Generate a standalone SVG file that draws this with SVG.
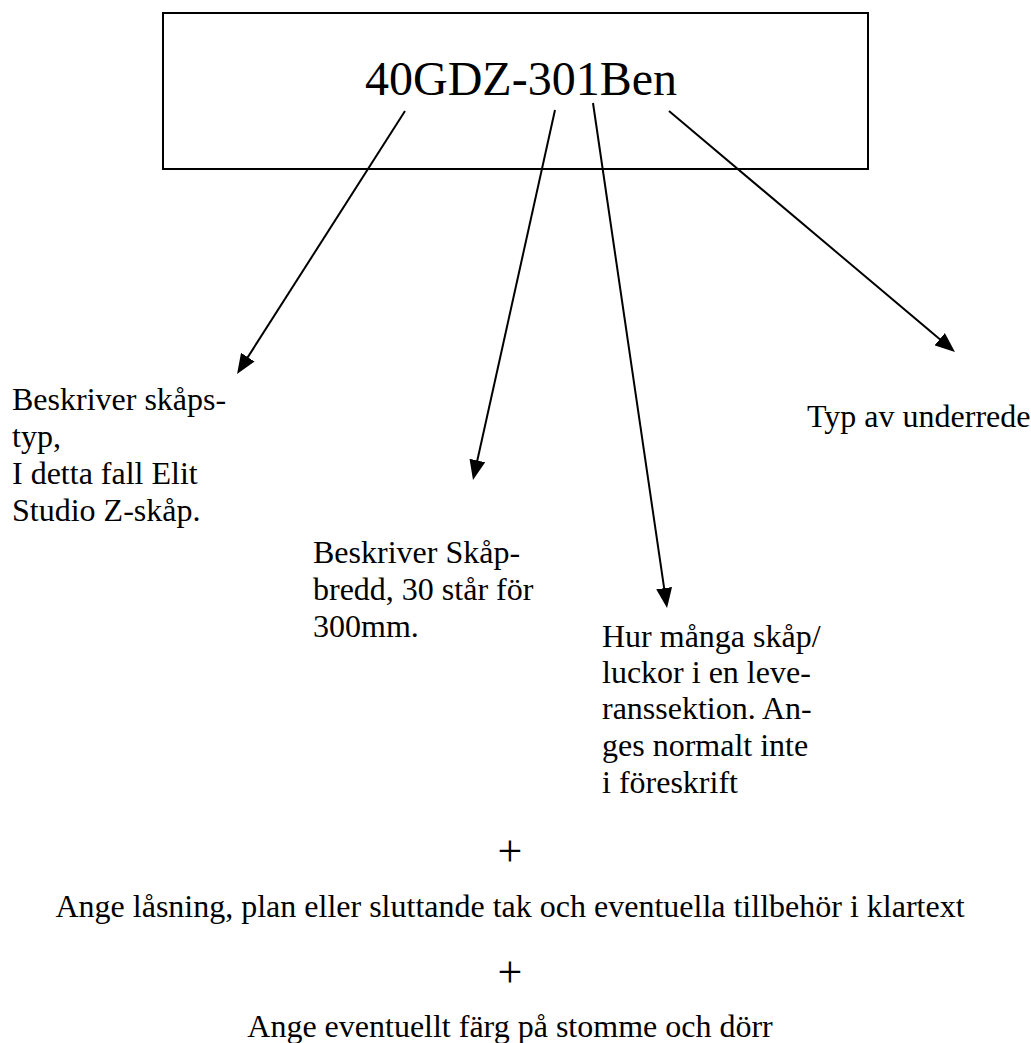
<svg xmlns="http://www.w3.org/2000/svg" width="1031" height="1043" viewBox="0 0 1031 1043">
<style>
  text { font-family: "Liberation Serif", "Times New Roman", serif; fill: #000; }
  .lbl { font-size: 32px; }
  .plus { font-size: 44px; }
  .title { font-size: 48px; }
  .conn { stroke: #000; stroke-width: 2; fill: none; marker-end: url(#ah); }
  .box { fill: #fff; stroke: #000; stroke-width: 2; }
</style>
<defs>
  <marker id="ah" markerUnits="userSpaceOnUse" markerWidth="20" markerHeight="16" refX="8" refY="8" orient="auto" viewBox="0 0 20 16">
    <path d="M0,0 L20,8 L0,16 z" fill="#000"/>
  </marker>
</defs>
<rect width="1031" height="1043" fill="#fff"/>
<g id="code-box">
  <rect class="box" x="163" y="13" width="705" height="156"/>
  <text class="title" x="521" y="95" text-anchor="middle">40GDZ-301Ben</text>
</g>
<g id="connectors">
  <line class="conn" x1="405" y1="111" x2="243.5" y2="363.9"/>
  <line class="conn" x1="555" y1="110" x2="475.6" y2="468.3"/>
  <line class="conn" x1="593" y1="103" x2="665.3" y2="596.1"/>
  <line class="conn" x1="669" y1="111" x2="945.8" y2="344.3"/>
</g>
<g id="node-skapstyp">
  <text class="lbl" x="12" y="410">Beskriver skåps-</text>
  <text class="lbl" x="12" y="447">typ,</text>
  <text class="lbl" x="12" y="484">I detta fall Elit</text>
  <text class="lbl" x="12" y="521">Studio Z-skåp.</text>
</g>
<g id="node-bredd">
  <text class="lbl" x="313" y="563">Beskriver Skåp-</text>
  <text class="lbl" x="313" y="600">bredd, 30 står för</text>
  <text class="lbl" x="313" y="637">300mm.</text>
</g>
<g id="node-antal">
  <text class="lbl" x="602" y="647">Hur många skåp/</text>
  <text class="lbl" x="602" y="683">luckor i en leve-</text>
  <text class="lbl" x="602" y="719">ranssektion. An-</text>
  <text class="lbl" x="602" y="756">ges normalt inte</text>
  <text class="lbl" x="602" y="793">i föreskrift</text>
</g>
<g id="node-underrede">
  <text class="lbl" x="807" y="427">Typ av underrede</text>
</g>
<g id="notes">
  <text class="plus" x="510" y="866" text-anchor="middle">+</text>
  <text class="lbl" x="510" y="917" text-anchor="middle">Ange låsning, plan eller sluttande tak och eventuella tillbehör i klartext</text>
  <text class="plus" x="510" y="987" text-anchor="middle">+</text>
  <text class="lbl" x="510" y="1037" text-anchor="middle">Ange eventuellt färg på stomme och dörr</text>
</g>
</svg>
